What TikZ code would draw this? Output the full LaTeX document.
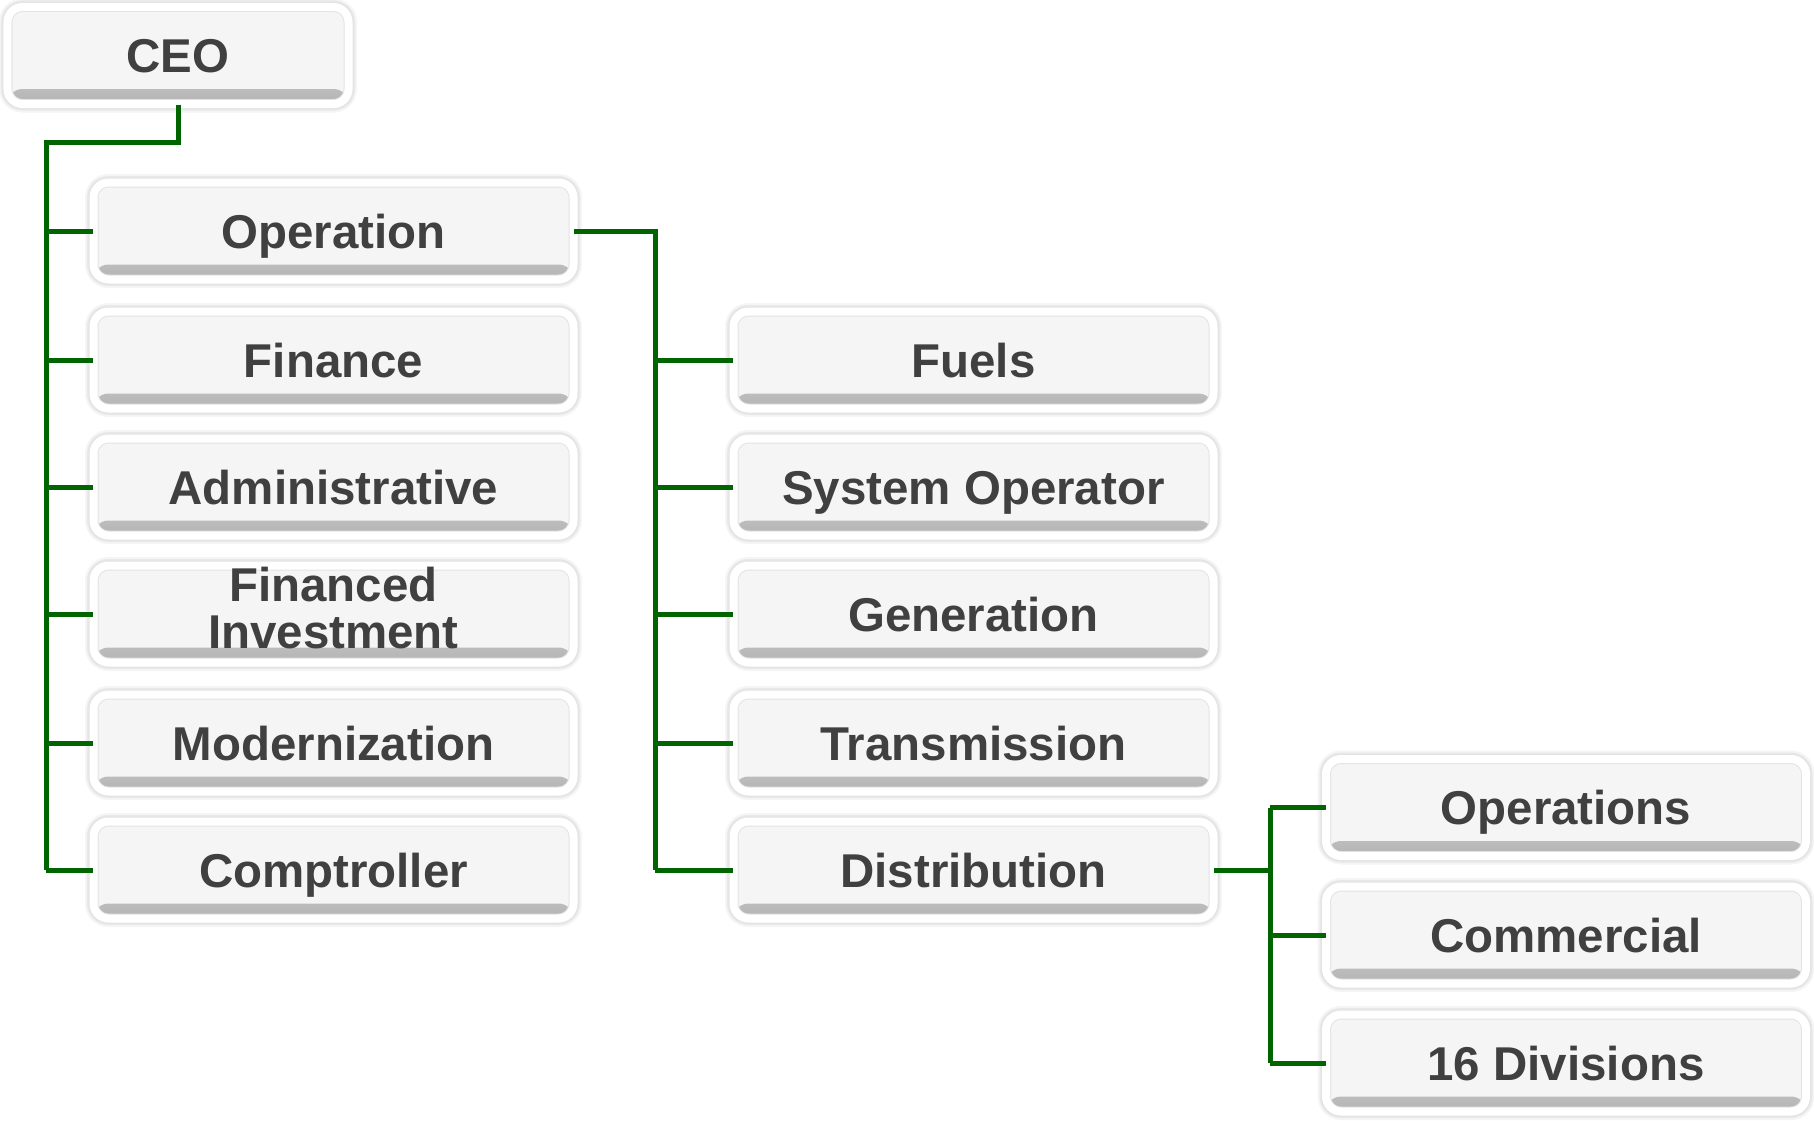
\documentclass[tikz,border=0pt]{standalone}
\usepackage{fontspec}
\setmainfont{Liberation Sans}
\usepackage{tikz}
\usetikzlibrary{calc,positioning}
\definecolor{linkgreen}{HTML}{006400}
\definecolor{boxfill}{HTML}{F5F5F5}
\definecolor{boxtext}{HTML}{404040}

\begin{document}
\begin{tikzpicture}[font=\fontsize{13.5}{13.5}\selectfont\bfseries, text=boxtext]
   \useasboundingbox (0,0) rectangle (18.14,-11.20);
   \begin{scope}[every node/.style={rectangle, rounded corners=0.15cm, inner sep=0pt,
       minimum width=4.80cm, minimum height=0.97cm, align=center,
       text height=9.7pt, text depth=0pt,
       preaction={draw=black!4, line width=0.17cm},
       preaction={draw=black!9, line width=0.13cm},
       fill=boxfill, draw=black!11, line width=0.01cm, double=white, double distance=0.08cm,
       path picture={\shade[top color=boxfill, bottom color=black!30]
         (path picture bounding box.south west) rectangle
         ($(path picture bounding box.south east)+(0,0.15)$);}}]
    \node (ceo) [minimum width=3.41cm] at (1.78,-0.555) {CEO};
    % first level
    \node (op)   at (3.335,-2.31) {Operation};
    \node (fin)  at (3.335,-3.60) {Finance};
    \node (adm)  at (3.335,-4.87) {Administrative};
    \node (inv) [text height=23.2pt, text depth=3.5pt] at (3.335,-6.14) {Financed\\Investment};
    \node (mod)  at (3.335,-7.43) {Modernization};
    \node (comp) at (3.335,-8.70) {Comptroller};
    % under operation
    \node (fuel)  at (9.735,-3.60) {Fuels};
    \node (sysop) at (9.735,-4.87) {System Operator};
    \node (gen)   at (9.735,-6.14) {Generation};
    \node (trans) at (9.735,-7.43) {Transmission};
    \node (dist)  at (9.735,-8.70) {Distribution};
    % under distribution
    \node (dops) at (15.66,-8.075) {Operations};
    \node (comm) at (15.66,-9.35)  {Commercial};
    \node (div)  at (15.66,-10.63) {16 Divisions};
   \end{scope}
   \begin{scope}[draw=linkgreen, line width=0.05cm]
    \coordinate (b0) at (0.46,-1.42);
    \coordinate (b1) at (6.55,-2.31);
    \coordinate (b2) at (12.70,-8.70);
    \draw (ceo) |- (b0) -- (b0 |- comp);
    \foreach \n in {op,fin,adm,inv,mod,comp}
      \draw (b0 |- \n) -- (\n);
    \draw (op) -- (b1) -- (b1 |- dist);
    \foreach \n in {fuel,sysop,gen,trans,dist}
      \draw (b1 |- \n) -- (\n);
    \draw (dist) -- (b2);
    \draw (b2 |- dops) -- (b2 |- div);
    \foreach \n in {dops,comm,div}
      \draw (b2 |- \n) -- (\n);
   \end{scope}
\end{tikzpicture}
\end{document}
